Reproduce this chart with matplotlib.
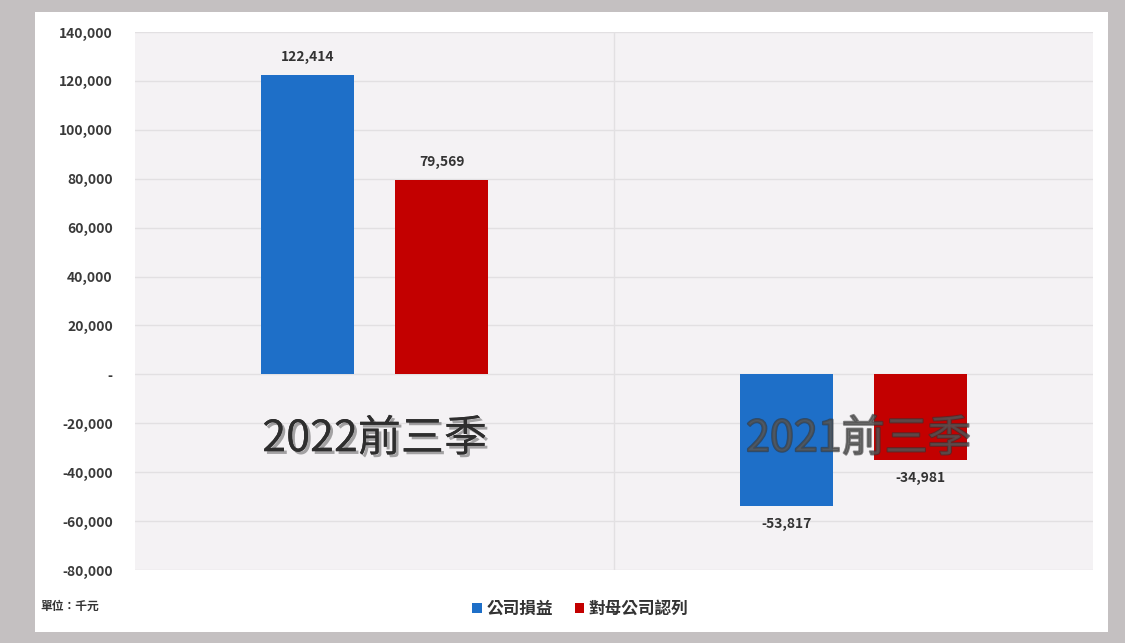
import matplotlib.pyplot as plt
import matplotlib.patheffects as pe
from matplotlib.patches import Rectangle
import numpy as np

plt.rcParams['font.family'] = ['Noto Sans CJK TC', 'DejaVu Sans']

# data (unit: thousand NTD)
periods = ['2022前三季', '2021前三季']
series_names = ['公司損益', '對母公司認列']
company_pl = [122414, -53817]
parent_share = [79569, -34981]
yticks = np.arange(-80000, 140001, 20000)

blue = '#1e6fc8'
red = '#c30000'

fig = plt.figure(figsize=(11.25, 6.43), dpi=100)
fig.patch.set_facecolor('#c4c0c1')

# white card behind the chart (drawn on its own background axes)
bg = fig.add_axes([0, 0, 1, 1], zorder=0)
bg.set_axis_off()
bg.set_xlim(0, 1125)
bg.set_ylim(643, 0)
bg.add_patch(Rectangle((35, 12), 1108 - 35, 632 - 12, facecolor='white', edgecolor='none'))

ax = fig.add_axes([135 / 1125, 1 - 570 / 643, (1093 - 135) / 1125, (570 - 32) / 643], zorder=1)
ax.set_facecolor('#f4f2f4')

x = np.arange(len(periods))
w = 0.195
off = 0.14
b1 = ax.bar(x - off, company_pl, w, color=blue, zorder=3)
b2 = ax.bar(x + off, parent_share, w, color=red, zorder=3)

# value labels
for bars, vals in [(b1, company_pl), (b2, parent_share)]:
    for rect, v in zip(bars, vals):
        cx = rect.get_x() + rect.get_width() / 2
        if v >= 0:
            ax.annotate(f'{v:,}', (cx, v), xytext=(0, 8), textcoords='offset points',
                        ha='center', va='bottom', fontsize=10, color='#333333',
                        fontweight='bold', zorder=5)
        else:
            ax.annotate(f'{v:,}', (cx, v), xytext=(0, -8), textcoords='offset points',
                        ha='center', va='top', fontsize=10, color='#333333',
                        fontweight='bold', zorder=5)

# big period captions
ax.text(x[0], -26500, periods[0], ha='center', va='center', fontsize=31,
        color='#2e2e2e', zorder=6,
        path_effects=[pe.withSimplePatchShadow(offset=(2, -2), alpha=0.35), pe.Normal()])
ax.text(x[1] + 0.01, -26500, periods[1], ha='center', va='center', fontsize=31,
        color='#555555', alpha=0.6, zorder=6,
        path_effects=[pe.Stroke(linewidth=1.5, foreground='#333333'), pe.Normal()])

ax.set_xlim(-0.5, 1.5)
ax.set_ylim(-80000, 140000)
ax.set_yticks(yticks)
ax.set_yticklabels(['-' if t == 0 else f'{t:,}' for t in yticks], fontweight='bold')
ax.set_xticks([])
ax.tick_params(axis='y', length=0, pad=16, labelsize=10, labelcolor='#3a3a3a')
ax.grid(axis='y', color='#e2e0e2', linewidth=1, zorder=0)
ax.axvline(0.5, color='#e2e0e2', linewidth=1, zorder=0)
for s in ax.spines.values():
    s.set_visible(False)

# legend and unit
ax.legend([b1, b2], series_names, loc='upper center', bbox_to_anchor=(0.5 - 0.035, -0.027),
          ncol=2, frameon=False, prop={'size': 12, 'weight': 'bold'},
          handlelength=0.55, handleheight=0.55, handletextpad=0.3, columnspacing=1.3,
          labelcolor='#333333')
ax.text(40 / 1125, 1 - 606 / 643, '單位：千元', transform=fig.transFigure, fontsize=8.5,
        color='#333333', ha='left', va='center', fontweight='bold')

fig.savefig('out.png', dpi=100, facecolor=fig.get_facecolor())
